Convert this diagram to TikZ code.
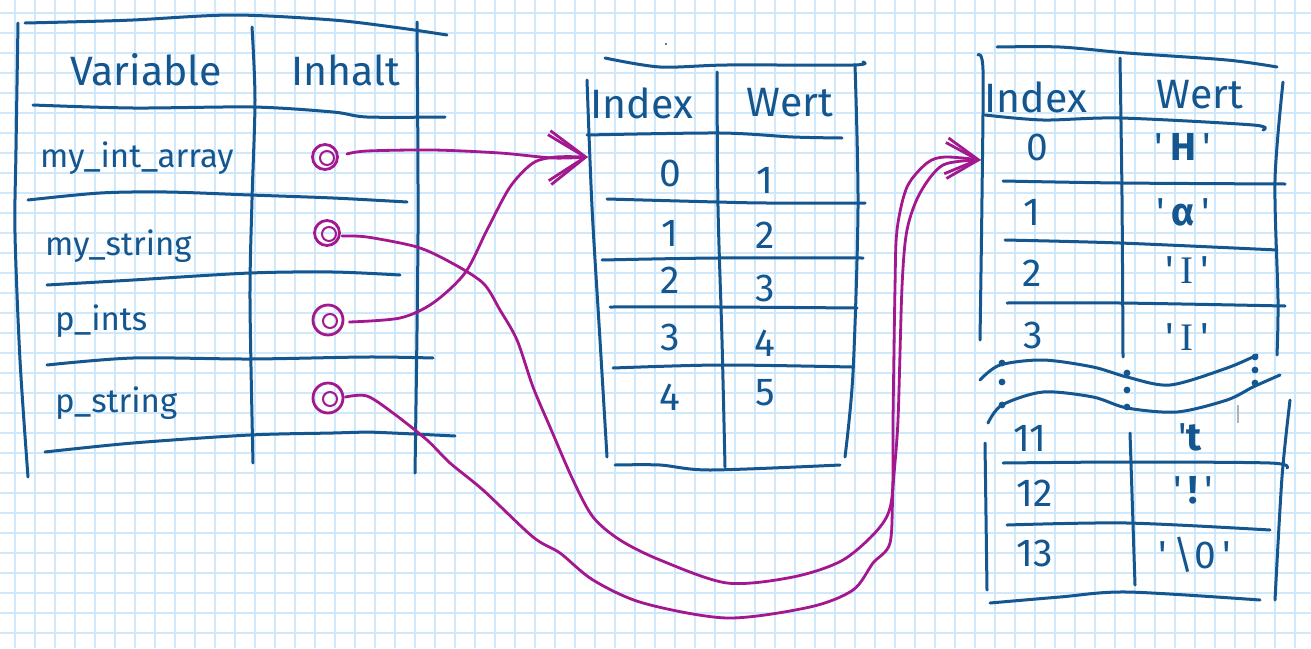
\documentclass[tikz,border=0pt]{standalone}
\usepackage{fontspec}
\setmainfont{Fira Sans}
\newfontfamily\serifI{Liberation Serif}
\usepackage{tikz}
\usetikzlibrary{arrows.meta,positioning,calc}
\definecolor{tinte}{HTML}{14568F}
\definecolor{stift}{HTML}{A3178F}
\definecolor{karo}{HTML}{CFE9FA}
\newcommand{\zch}[1]{\textquotesingle\,#1\,\textquotesingle}

\begin{document}
\begin{tikzpicture}[x=1pt, y=-1pt,
    hand/.style={tinte, line width=3pt, line cap=round, line join=round},
    txt/.style={text=tinte, inner sep=0pt, font=\fontsize{39}{41}\selectfont},
    head/.style={txt, font=\fontsize{41}{44}\selectfont},
    vname/.style={txt, anchor=base west, font=\fontsize{33}{38}\selectfont},
    ptr/.style={circle, draw=stift, line width=2.8pt, inner sep=0pt, minimum size=25pt},
    lnk/.style={stift, line width=2.8pt, line cap=round, line join=round},
    arra/.style={lnk, -{Straight Barb[length=36pt, width=50pt]}},
    arrb/.style={lnk, -{Straight Barb[length=32pt, width=36pt]}}]
    \useasboundingbox (0,0) rectangle (1311,648);
    \fill[white] (0,0) rectangle (1311,648);
    \foreach \gx in {15,35,...,1311} \draw[karo, line width=1.2pt] (\gx,0) -- (\gx,648);
    \foreach \gy in {13,33,...,648} \draw[karo, line width=1.2pt] (0,\gy) -- (1311,\gy);
    % Variablen
    \draw[hand] plot[smooth] coordinates {(25,23) (67,22) (133,20) (233,15) (333,20) (400,28) (447,35)};
    \draw[hand] plot[smooth] coordinates {(18,23) (16,150) (15,233) (20,360) (28,477)};
    \draw[hand] plot[smooth] coordinates {(252,27) (255,100) (252,200) (250,300) (253,463)};
    \draw[hand] plot[smooth] coordinates {(417,22) (418,233) (415,473)};
    \draw[hand] plot[smooth] coordinates {(33,105) (133,108) (253,107) (333,112) (367,117) (445,117)};
    \draw[hand] plot[smooth] coordinates {(28,200) (100,193) (167,192) (250,195) (333,198) (407,202)};
    \draw[hand] plot[smooth] coordinates {(47,285) (133,280) (250,273) (333,272) (400,275)};
    \draw[hand] plot[smooth] coordinates {(47,365) (133,358) (250,359) (367,357) (433,358)};
    \draw[hand] plot[smooth] coordinates {(45,452) (133,443) (250,435) (333,433) (367,432) (455,436)};
    \node[head] (var) at (146,70) {Variable};
    \node[head] (inh) at (346,70) {Inhalt};
    \node[vname] (vint) at (40,167) {my\_int\_array};
    \node[vname] (vstr) at (45,255) {my\_string};
    \node[vname] (vpin) at (55,330) {p\_ints};
    \node[vname] (vpst) at (55,412) {p\_string};
    \node[ptr] (pint) at (325,157) {};
    \node[ptr] (pstr) at (327,233) {};
    \node[ptr, minimum size=30pt] (ppin) at (328,320) {};
    \node[ptr, minimum size=30pt] (ppst) at (328,398) {};
    \foreach \p in {pint,pstr,ppin,ppst}
      \draw[stift, line width=2pt] ($(\p.center)+(2,1)$) circle (7pt);
    % int-Array
    \draw[hand] plot[smooth] coordinates {(605,58) (660,67) (727,65) (853,65) (863,62)};
    \draw[hand] plot[smooth] coordinates {(587,80) (592,207) (600,340) (607,457)};
    \draw[hand] plot[smooth] coordinates {(717,72) (718,207) (722,340) (725,467)};
    \draw[hand] plot[smooth] coordinates {(855,65) (858,207) (853,373) (845,457)};
    \draw[hand] plot[smooth] coordinates {(587,135) (720,133) (793,137) (842,138)};
    \draw[hand] plot[smooth] coordinates {(607,199) (717,202) (767,203) (865,203)};
    \draw[hand] plot[smooth] coordinates {(602,260) (717,258) (863,258)};
    \draw[hand] plot[smooth] coordinates {(610,307) (720,307) (857,308)};
    \draw[hand] plot[smooth] coordinates {(613,368) (720,365) (852,367)};
    \draw[hand] plot[smooth] coordinates {(615,465) (660,465) (710,470) (840,465)};
    \fill[tinte] (666,44) circle (1.2pt);
    \node[head] (aidx) at (642,103) {Index};
    \node[head] (awrt) at (790,103) {Wert};
    \foreach \i/\y in {0/173,1/233,2/280,3/337,4/397}
      \node[txt] (ai\i) at (670,\y) {\i};
    \foreach \w/\y in {1/180,2/235,3/288,4/343,5/393}
      \node[txt] (aw\w) at (765,\y) {\w};
    % String
    \draw[hand] plot[smooth] coordinates {(997,47) (1060,47) (1127,53) (1227,60) (1277,67)};
    \draw[hand] plot[smooth] coordinates {(978,55) (983,70) (982,197) (980,340)};
    \draw[hand] plot[smooth] coordinates {(1120,58) (1122,197) (1123,357)};
    \draw[hand] plot[smooth] coordinates {(1283,82) (1275,180) (1278,300) (1277,355)};
    \draw[hand] plot[smooth] coordinates {(985,115) (1043,120) (1120,118) (1253,125) (1263,130)};
    \draw[hand] plot[smooth] coordinates {(1003,181) (1120,183) (1285,184)};
    \draw[hand] plot[smooth] coordinates {(1005,240) (1120,243) (1277,250)};
    \draw[hand] plot[smooth] coordinates {(1007,303) (1120,303) (1285,306)};
    \draw[hand] plot[smooth] coordinates {(980,380) (1000,365) (1043,360) (1093,367) (1127,377) (1170,385) (1227,368) (1257,355)};
    \draw[hand] plot[smooth] coordinates {(988,423) (1002,405) (1043,392) (1093,397) (1127,408) (1177,412) (1227,400) (1253,387) (1280,375)};
    \foreach \dx/\dy in {1002/363,1002/382,1002/405,1127/373,1127/390,1127/407,1255/357,1255/370,1255/383}
      \fill[tinte] (\dx,\dy) circle (3.4pt);
    \draw[gray!60, line width=1.5pt] (1238,405) -- (1238,423);
    \draw[hand] plot[smooth] coordinates {(985,443) (987,590)};
    \draw[hand] plot[smooth] coordinates {(1130,433) (1135,585)};
    \draw[hand] plot[smooth] coordinates {(1290,400) (1282,477) (1275,600)};
    \draw[hand] plot[smooth] coordinates {(1003,463) (1127,462) (1270,463) (1287,468)};
    \draw[hand] plot[smooth] coordinates {(1007,525) (1127,523) (1270,530)};
    \draw[hand] plot[smooth] coordinates {(990,603) (1060,597) (1127,592) (1260,600)};
    \node[head] (sidx) at (1036,97) {Index};
    \node[head] (swrt) at (1200,95) {Wert};
    \foreach \i/\x/\y in {0/1037/147,1/1032/212,2/1032/273,3/1033/335,11/1030/438,12/1035/493,13/1035/553}
      \node[txt] (si\i) at (\x,\y) {\i};
    \node[txt] (sw0) at (1183,147) {\zch{\textbf{H}}};
    \node[txt] (sw1) at (1183,212) {\zch{\textbf{α}}};
    \node[txt] (sw2) at (1187,270) {\zch{{\serifI I}}};
    \node[txt] (sw3) at (1187,337) {\zch{{\serifI I}}};
    \node[txt] (sw11) at (1190,437) {\textquotesingle\textbf{t}};
    \node[txt] (sw12) at (1193,490) {\zch{\textbf{!}}};
    \node[txt] (sw13) at (1195,555) {\zch{\textbackslash 0}};
    % Zeiger
    \coordinate (tipa) at (588,157);
    \coordinate (tipb) at (981,160);
    \draw[arra] plot[smooth] coordinates {($(pint.east)+(8,-3)$) (367,151) (433,150) (500,153) (553,158) (tipa)};
    \draw[arra] plot[smooth] coordinates {($(ppin.east)+(5,2)$) (400,318) (433,303) (465,273) (487,230) (510,187) (533,163) (556,157) (tipa)};
    \draw[arrb] plot[smooth] coordinates {($(pstr.east)+(1,3)$) (367,237) (417,247) (450,262) (483,283) (500,310) (517,340) (533,387) (550,427) (573,480) (593,517) (620,540) (660,560) (727,583) (793,577) (843,560) (880,527) (892,497) (893,420) (895,287) (897,230) (907,187) (927,163) (945,157) (tipb)};
    \draw[arrb] plot[smooth] coordinates {($(ppst.east)+(1,-1)$) (367,396) (393,413) (427,440) (450,463) (483,490) (533,537) (560,553) (593,580) (643,603) (727,618) (810,607) (853,590) (873,563) (890,543) (893,487) (898,420) (902,287) (907,230) (920,193) (943,165) (tipb)};
  \end{tikzpicture}
\end{document}
